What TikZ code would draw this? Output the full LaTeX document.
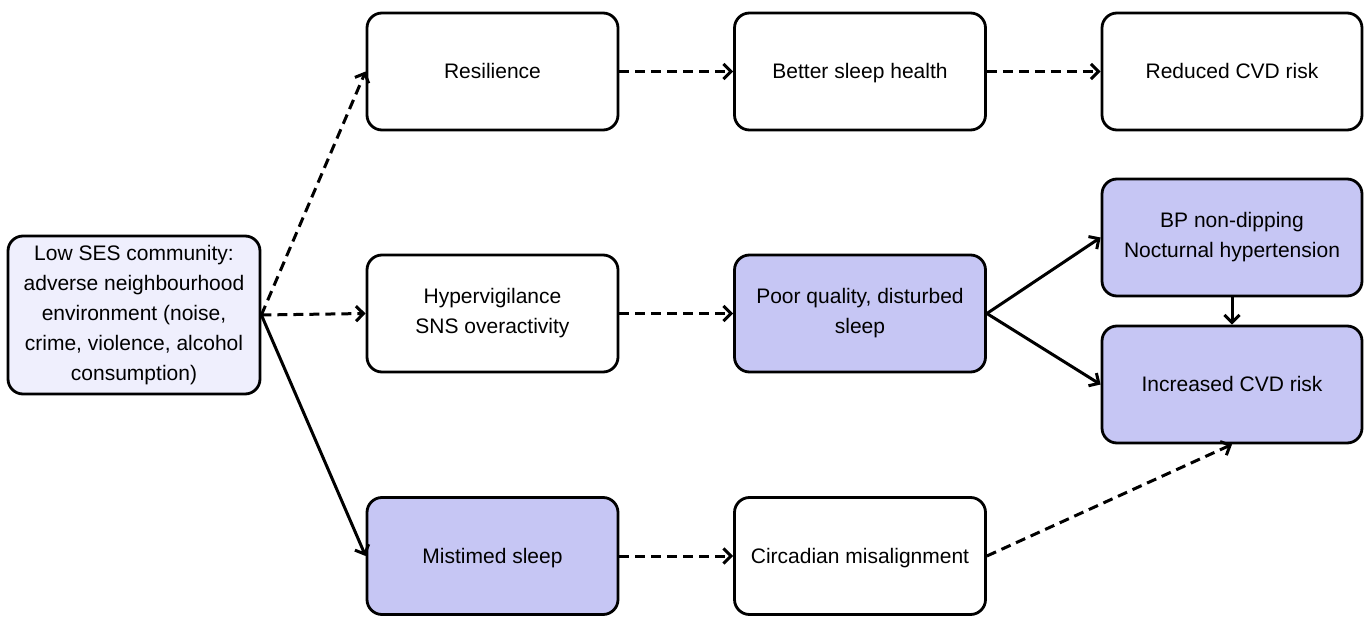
\documentclass[tikz,border=0pt]{standalone}
\usepackage{fontspec}
\setmainfont{Liberation Sans}
\usetikzlibrary{arrows.meta}
\definecolor{palefill}{HTML}{EFEFFD}
\definecolor{lilac}{HTML}{C6C6F4}
\begin{document}
\begin{tikzpicture}[x=1pt,y=-1pt,
  box/.style={draw=black, line width=2.8pt, rounded corners=15pt, fill=white,
    align=center, inner sep=2pt, font=\fontsize{21}{30}\selectfont,
    execute at begin node={\rule{0pt}{19pt}},
    execute at end node={\rule[-4.5pt]{0pt}{4.5pt}}},
  wide/.style={minimum width=251pt, minimum height=117pt},
  wider/.style={minimum width=260pt, minimum height=117pt},
  hl/.style={fill=lilac},
  link/.style={line width=3pt, -{Straight Barb[length=7.5pt,width=15pt,line width=3pt]}},
  dlink/.style={link, dash pattern=on 10pt off 6pt}]
\useasboundingbox (0,0) rectangle (1365,617);

% source box
\node[box, fill=palefill, minimum width=252pt, minimum height=158pt] (low) at (134,315)
  {Low SES community:\\adverse neighbourhood\\environment (noise,\\crime, violence, alcohol\\consumption)};

% top row
\node[box, wide] (res) at (492.5,71.5) {Resilience};
\node[box, wide] (bsh) at (860,71.5) {Better sleep health};
\node[box, wider] (red) at (1232,71.5) {Reduced CVD risk};

% middle row
\node[box, wide] (hyp) at (492.5,313.5) {Hypervigilance\\SNS overactivity};
\node[box, wide, hl] (poor) at (860,313.5) {Poor quality, disturbed\\sleep};
\node[box, wider, hl] (bp) at (1232,237.5) {BP non-dipping\\Nocturnal hypertension};
\node[box, wider, hl] (inc) at (1232,384.5) {Increased CVD risk};

% bottom row
\node[box, wide, hl] (mis) at (492.5,556) {Mistimed sleep};
\node[box, wide] (cir) at (860,556) {Circadian misalignment};

% connectors
\draw[dlink] (low.east) -- (res.west);
\draw[dlink] (low.east) -- (hyp.west);
\draw[link] (low.east) -- (mis.west);
\draw[dlink] (res) -- (bsh);
\draw[dlink] (bsh) -- (red);
\draw[dlink] (hyp) -- (poor);
\draw[link] (poor.east) -- (bp.west);
\draw[link] (poor.east) -- (inc.west);
\draw[link] (bp) -- (inc);
\draw[dlink] (mis) -- (cir);
\draw[dlink] (cir.east) -- (inc.south);
\end{tikzpicture}
\end{document}
